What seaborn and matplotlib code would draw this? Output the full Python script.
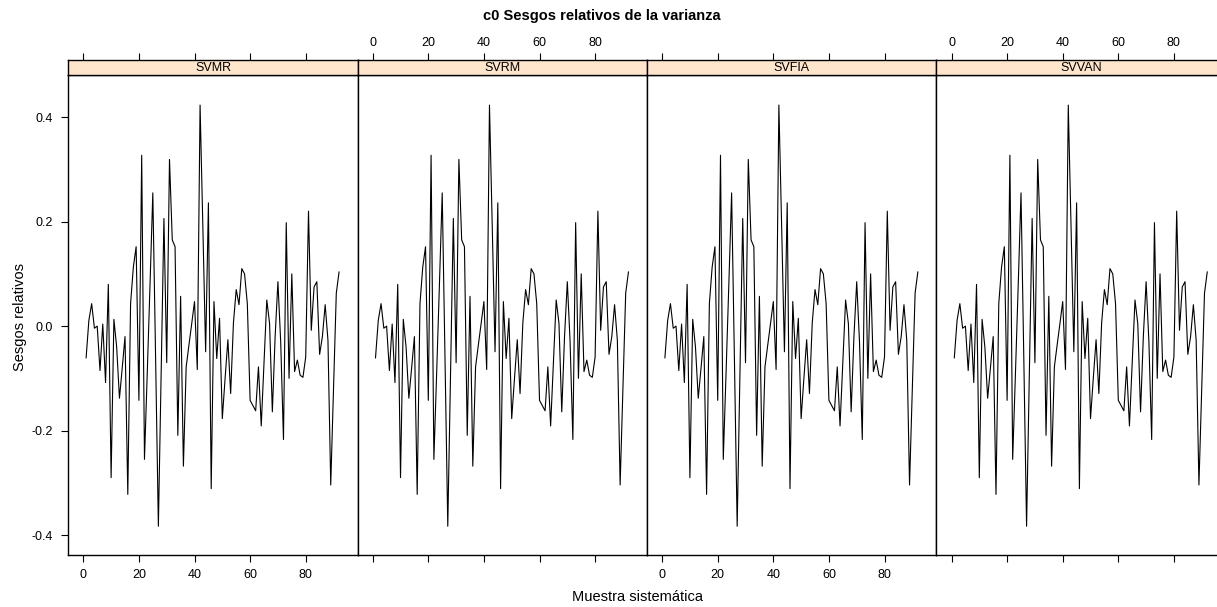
import pandas as pd
import seaborn as sns
import matplotlib.pyplot as plt

# panels (lattice strips) and the shared series
paneles = ["SVMR", "SVRM", "SVFIA", "SVVAN"]
muestra = list(range(1, 93))
sesgo = [-0.061, 0.011, 0.043, -0.004, 0.000, -0.085, 0.004, -0.108, 0.080, -0.290,
         0.013, -0.040, -0.138, -0.080, -0.020, -0.322, 0.043, 0.113, 0.152, -0.142,
         0.327, -0.255, -0.090, 0.080, 0.255, -0.060, -0.383, -0.090, 0.206, -0.070,
         0.319, 0.165, 0.152, -0.209, 0.057, -0.268, -0.078, -0.036, 0.005, 0.047,
         -0.083, 0.423, 0.190, -0.049, 0.236, -0.311, 0.047, -0.062, 0.015, -0.177,
         -0.100, -0.026, -0.129, 0.006, 0.070, 0.041, 0.110, 0.100, 0.043, -0.142,
         -0.152, -0.162, -0.078, -0.191, -0.070, 0.050, 0.005, -0.164, -0.020, 0.085,
         -0.030, -0.217, 0.198, -0.100, 0.100, -0.087, -0.065, -0.094, -0.098, -0.059,
         0.220, -0.008, 0.075, 0.085, -0.054, -0.020, 0.041, -0.027, -0.304, -0.120,
         0.063, 0.104]
x_ticks = [0, 20, 40, 60, 80]
y_ticks = [-0.4, -0.2, 0.0, 0.2, 0.4]
y_tick_labels = ["-0.4", "-0.2", "0.0", "0.2", "0.4"]

df = pd.concat([pd.DataFrame({"panel": p, "muestra": muestra, "sesgo": sesgo})
                for p in paneles], ignore_index=True)

sns.set_style("white")
plt.rcParams["font.family"] = ["Liberation Sans", "DejaVu Sans"]
plt.rcParams["text.color"] = "black"
plt.rcParams["xtick.color"] = "black"
plt.rcParams["ytick.color"] = "black"

W, H = 1217, 607
fig = plt.figure(figsize=(W / 100, H / 100), dpi=100)

left, pw = 68.3, 289.4
strip_top, strip_bot, bottom = 60, 75.3, 555
xlim = (-5.4, 98.7)
ylim = (-0.438, 0.480)
fs = 9

for k, nombre in enumerate(paneles):
    x0 = left + k * pw
    ax = fig.add_axes([x0 / W, 1 - bottom / H, pw / W, (bottom - strip_bot) / H])
    sns.lineplot(data=df[df["panel"] == nombre], x="muestra", y="sesgo",
                 color="black", lw=0.8, estimator=None, ax=ax)
    ax.set_xlim(xlim)
    ax.set_ylim(ylim)
    ax.set_xlabel("")
    ax.set_ylabel("")
    for s in ax.spines.values():
        s.set_color("black")
        s.set_linewidth(1.0)
    ax.set_xticks(x_ticks)
    ax.tick_params(axis="x", direction="out", length=5, width=0.8, colors="black",
                   labelsize=fs, pad=5, labelbottom=(k % 2 == 0), bottom=True)
    ax.set_yticks(y_ticks)
    if k == 0:
        ax.set_yticklabels(y_tick_labels)
        ax.tick_params(axis="y", direction="out", length=5, width=0.8, colors="black",
                       labelsize=fs, pad=6, left=True)
    elif k == len(paneles) - 1:
        ax.tick_params(axis="y", direction="out", length=5, width=0.8, colors="black",
                       left=False, right=True, labelleft=False)
    else:
        ax.tick_params(axis="y", left=False, labelleft=False)

    # strip with the panel name, top axis ticks above it
    st = fig.add_axes([x0 / W, 1 - strip_bot / H, pw / W, (strip_bot - strip_top) / H])
    st.set_facecolor("#ffe5cc")
    st.set_xlim(xlim)
    st.set_yticks([])
    for s in st.spines.values():
        s.set_color("black")
        s.set_linewidth(1.0)
    st.set_xticks(x_ticks)
    st.tick_params(axis="x", direction="out", length=5, width=0.8, colors="black",
                   labelsize=fs, pad=3, top=True, bottom=False,
                   labeltop=(k % 2 == 1), labelbottom=False)
    st.text(0.5, 0.45, nombre, transform=st.transAxes, ha="center", va="center",
            fontsize=fs)

fig.text(602 / W, 1 - 16 / H, "c0 Sesgos relativos de la varianza",
         ha="center", va="center", fontsize=10.5, fontweight="bold")
fig.text(638 / W, 1 - 597 / H, "Muestra sistemática", ha="center", va="center",
         fontsize=10.5)
fig.text(20 / W, 1 - 317 / H, "Sesgos relativos", ha="center", va="center",
         rotation=90, fontsize=10.5)

fig.savefig("out.png", dpi=100)
